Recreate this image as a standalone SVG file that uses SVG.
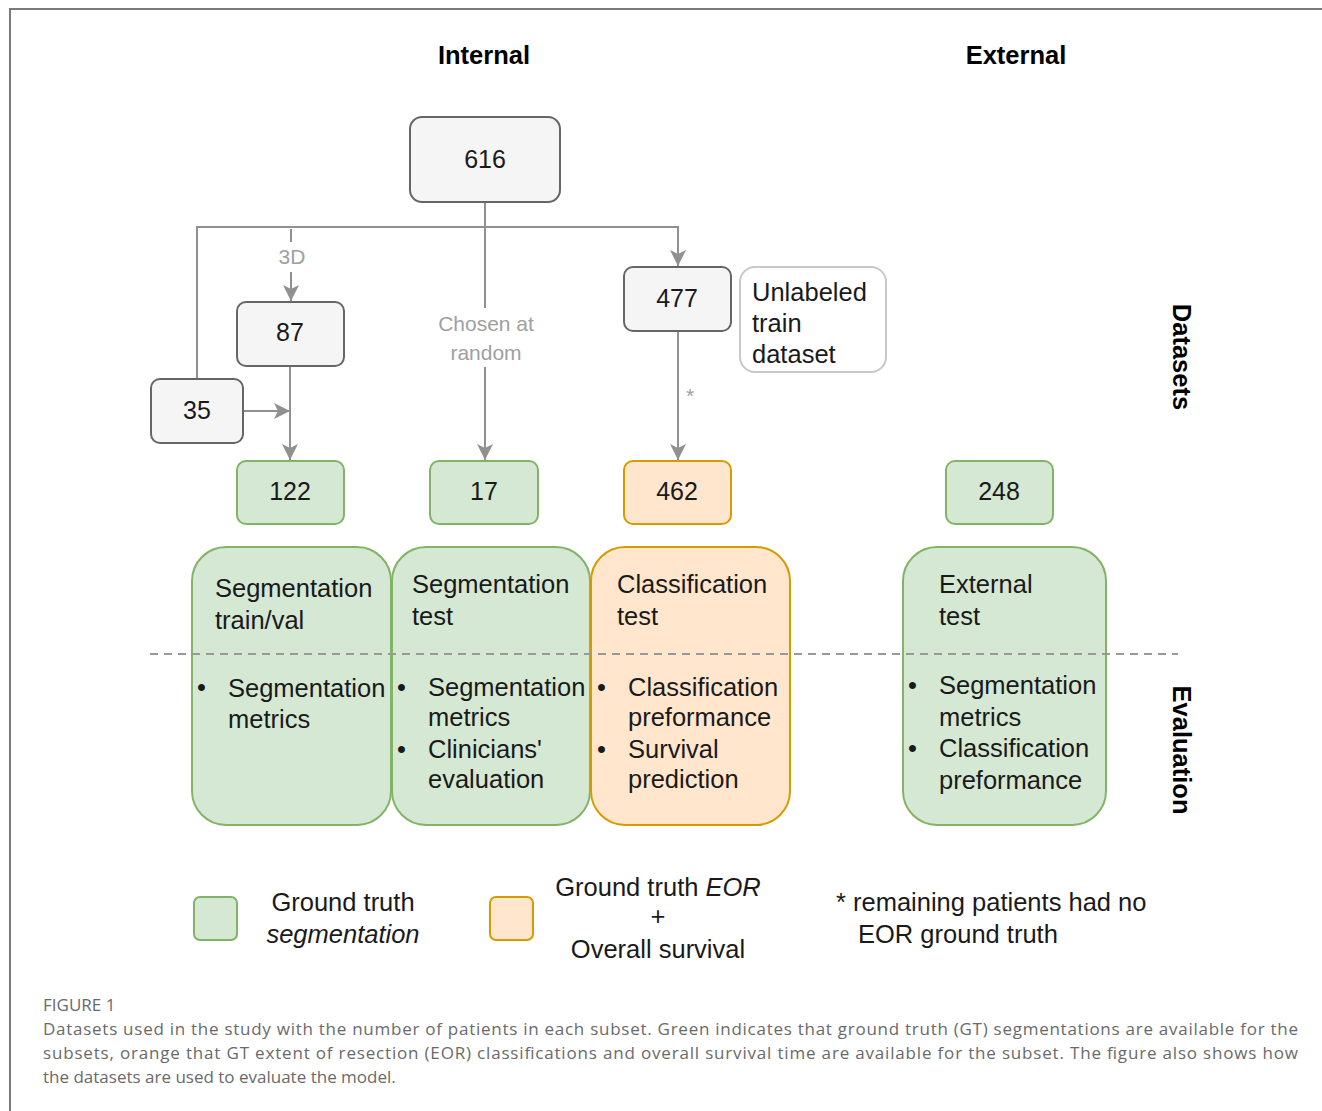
<svg xmlns="http://www.w3.org/2000/svg" width="1322" height="1111" viewBox="0 0 1322 1111">
<defs>
<marker id="arr" viewBox="0 0 16 16" markerWidth="16" markerHeight="16" refX="16" refY="8" orient="auto" markerUnits="userSpaceOnUse">
<path d="M0,0 L16,8 L0,16 L4,8 z" fill="#909090"/>
</marker>
<style>
text{font-family:"Liberation Sans",Arial,sans-serif;fill:#1a1a1a}
.t{font-size:25.5px}
.num{font-size:25px;text-anchor:middle}
.hd{font-size:25.5px;font-weight:bold;text-anchor:middle;fill:#000}
.lbl{font-size:21px;fill:#a0a0a0;text-anchor:middle}
.gray{fill:#f5f5f5;stroke:#666;stroke-width:2}
.grn{fill:#d5e8d4;stroke:#82b366;stroke-width:2}
.org{fill:#ffe6cc;stroke:#d79b00;stroke-width:2}
.con{fill:none;stroke:#909090;stroke-width:2}
.cap{font-family:"Open Sans","Noto Sans",sans-serif;fill:#6a6a6a;font-size:17px}
</style>
</defs>
<rect width="1322" height="1111" fill="#fff"/>
<path d="M10,1111 V9 H1322" fill="none" stroke="#7a7a7a" stroke-width="2"/>

<text class="hd" x="484" y="64">Internal</text>
<text class="hd" x="1016" y="64">External</text>
<text class="hd" transform="translate(1173,357) rotate(90)">Datasets</text>
<text class="hd" transform="translate(1173,750) rotate(90)">Evaluation</text>

<g id="connectors">
<path class="con" d="M485,202 V308"/>
<path class="con" d="M485,367 V460" marker-end="url(#arr)"/>
<path class="con" d="M197,379 V227 H678 V266" marker-end="url(#arr)"/>
<path class="con" d="M291,229 V242"/>
<path class="con" d="M291,272 V301" marker-end="url(#arr)"/>
<path class="con" d="M290,366 V460" marker-end="url(#arr)"/>
<path class="con" d="M243,411 H290" marker-end="url(#arr)"/>
<path class="con" d="M678,331 V460" marker-end="url(#arr)"/>
<text class="lbl" x="292" y="264">3D</text>
<text class="lbl" x="486" y="331">Chosen at</text>
<text class="lbl" x="486" y="360">random</text>
<text class="lbl" x="690" y="403">*</text>
</g>

<g id="n616"><rect class="gray" x="410" y="117" width="150" height="85" rx="12"/><text class="num" x="485" y="168">616</text></g>
<g id="n87"><rect class="gray" x="237" y="302" width="107" height="64" rx="9"/><text class="num" x="290" y="341">87</text></g>
<g id="n35"><rect class="gray" x="151" y="379" width="92" height="64" rx="9"/><text class="num" x="197" y="419">35</text></g>
<g id="n477"><rect class="gray" x="624" y="267" width="107" height="64" rx="9"/><text class="num" x="677" y="307">477</text></g>
<g id="unlabeled"><rect x="740" y="267" width="146" height="105" rx="15" fill="#fff" stroke="#c8c8c8" stroke-width="2"/>
<text class="t" x="752" y="301">Unlabeled</text><text class="t" x="752" y="332">train</text><text class="t" x="752" y="363">dataset</text></g>

<g id="n122"><rect class="grn" x="237" y="461" width="107" height="63" rx="9"/><text class="num" x="290" y="500">122</text></g>
<g id="n17"><rect class="grn" x="430" y="461" width="108" height="63" rx="9"/><text class="num" x="484" y="500">17</text></g>
<g id="n462"><rect class="org" x="624" y="461" width="107" height="63" rx="9"/><text class="num" x="677" y="500">462</text></g>
<g id="n248"><rect class="grn" x="946" y="461" width="107" height="63" rx="9"/><text class="num" x="999" y="500">248</text></g>

<g id="segtrain"><rect class="grn" x="192" y="547" width="199" height="278" rx="34"/>
<text class="t" x="215" y="597">Segmentation</text><text class="t" x="215" y="629">train/val</text>
<text class="t" x="197" y="696">•</text><text class="t" x="228" y="697">Segmentation</text><text class="t" x="228" y="728">metrics</text></g>

<g id="segtest"><rect class="grn" x="392" y="547" width="198" height="278" rx="34"/>
<text class="t" x="412" y="593">Segmentation</text><text class="t" x="412" y="625">test</text>
<text class="t" x="397" y="696">•</text><text class="t" x="428" y="696">Segmentation</text><text class="t" x="428" y="726">metrics</text>
<text class="t" x="397" y="758">•</text><text class="t" x="428" y="758">Clinicians'</text><text class="t" x="428" y="788">evaluation</text></g>

<g id="clstest"><rect class="org" x="591" y="547" width="199" height="278" rx="34"/>
<text class="t" x="617" y="593">Classification</text><text class="t" x="617" y="625">test</text>
<text class="t" x="597" y="696">•</text><text class="t" x="628" y="696">Classification</text><text class="t" x="628" y="726">preformance</text>
<text class="t" x="597" y="758">•</text><text class="t" x="628" y="758">Survival</text><text class="t" x="628" y="788">prediction</text></g>

<g id="exttest"><rect class="grn" x="903" y="547" width="203" height="278" rx="34"/>
<text class="t" x="939" y="593">External</text><text class="t" x="939" y="625">test</text>
<text class="t" x="908" y="694">•</text><text class="t" x="939" y="694">Segmentation</text><text class="t" x="939" y="726">metrics</text>
<text class="t" x="908" y="757">•</text><text class="t" x="939" y="757">Classification</text><text class="t" x="939" y="789">preformance</text></g>

<path d="M150,654 H1178" stroke="#999" stroke-width="2" stroke-dasharray="8,6" fill="none"/>

<g id="legend">
<rect class="grn" x="194" y="897" width="43" height="43" rx="6"/>
<text class="t" x="343" y="911" text-anchor="middle">Ground truth</text>
<text class="t" x="343" y="943" text-anchor="middle" font-style="italic">segmentation</text>
<rect class="org" x="490" y="897" width="43" height="43" rx="6"/>
<text class="t" x="658" y="896" text-anchor="middle">Ground truth <tspan font-style="italic">EOR</tspan></text>
<text class="t" x="658" y="925" text-anchor="middle">+</text>
<text class="t" x="658" y="958" text-anchor="middle">Overall survival</text>
<text class="t" x="836" y="911">* remaining patients had no</text>
<text class="t" x="858" y="943">EOR ground truth</text>
</g>

<g id="caption">
<text class="cap" x="43" y="1011" font-size="13px">FIGURE 1</text>
<text class="cap" x="43" y="1035" textLength="1255" lengthAdjust="spacing">Datasets used in the study with the number of patients in each subset. Green indicates that ground truth (GT) segmentations are available for the</text>
<text class="cap" x="43" y="1059" textLength="1255" lengthAdjust="spacing">subsets, orange that GT extent of resection (EOR) classifications and overall survival time are available for the subset. The figure also shows how</text>
<text class="cap" x="43" y="1083">the datasets are used to evaluate the model.</text>
</g>
</svg>
